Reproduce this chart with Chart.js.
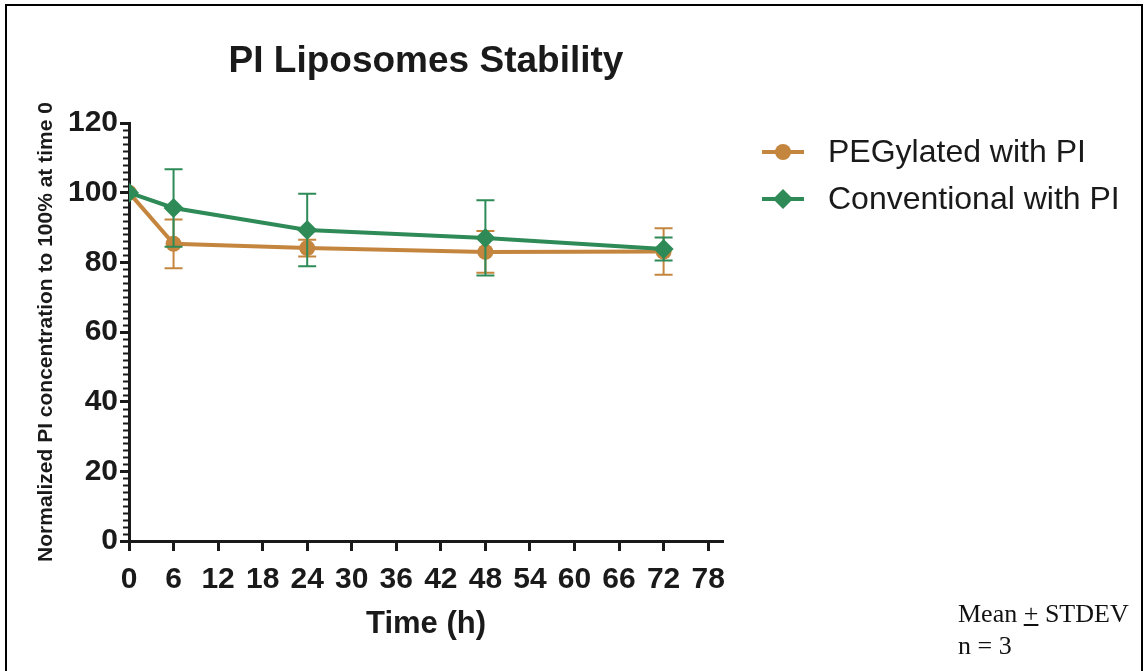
<!DOCTYPE html>
<html>
<head>
<meta charset="utf-8">
<script src="https://cdn.jsdelivr.net/npm/chart.js@4"></script>
<style>
  html, body { margin: 0; padding: 0; background: #fff; }
  #wrap { position: relative; width: 1144px; height: 671px; }
  #note {
    position: absolute; left: 958px; top: 598px;
    font-family: "Times New Roman", "Liberation Serif", serif;
    font-size: 26px; line-height: 32px; color: #111;
  }
</style>
</head>
<body>
<div id="wrap">
  <canvas id="stabilityChart" width="1144" height="671"></canvas>
  <div id="note">Mean <u>+</u> STDEV<br>n = 3</div>
</div>
<script>
// values
const timePoints = [0, 6, 24, 48, 72];
const pegMean = [100, 85.3, 84.1, 83.0, 83.1];
const pegSD = [0, 7.0, 2.4, 6.0, 6.7];
const convMean = [100, 95.6, 89.3, 87.0, 83.8];
const convSD = [0, 11.1, 10.4, 10.8, 3.3];
const seriesNames = ['PEGylated with PI', 'Conventional with PI'];
const xTicks = [0, 6, 12, 18, 24, 30, 36, 42, 48, 54, 60, 66, 72, 78];
const yTicks = [0, 20, 40, 60, 80, 100, 120];

const ORANGE = '#c4863f';
const GREEN = '#2e8a56';
const INK = '#1a1a1a';
const SANS = 'Arial, "Liberation Sans", Helvetica, sans-serif';
const tickFont = { family: SANS, size: 30, weight: 'bold' };

function toPoints(means) {
  return timePoints.map((t, i) => ({ x: t, y: means[i] }));
}

// error bars drawn right after their own dataset
const errorBars = {
  id: 'errorBars',
  afterDatasetDraw(chart, args) {
    const ds = chart.data.datasets[args.index];
    if (!ds.sd) return;
    const ctx = chart.ctx;
    const xs = chart.scales.x, ys = chart.scales.y;
    ctx.save();
    ctx.strokeStyle = ds.borderColor;
    ctx.lineWidth = 2;
    ds.data.forEach((p, i) => {
      const sd = ds.sd[i];
      if (!sd) return;
      const px = xs.getPixelForValue(p.x);
      const top = ys.getPixelForValue(p.y + sd);
      const bot = ys.getPixelForValue(p.y - sd);
      ctx.beginPath();
      ctx.moveTo(px, top); ctx.lineTo(px, bot);
      ctx.moveTo(px - 9, top); ctx.lineTo(px + 9, top);
      ctx.moveTo(px - 9, bot); ctx.lineTo(px + 9, bot);
      ctx.stroke();
    });
    ctx.restore();
  }
};

// title, minor ticks, legend and frame
const decorations = {
  id: 'decorations',
  afterDraw(chart) {
    const ctx = chart.ctx;
    const area = chart.chartArea;
    const ys = chart.scales.y;
    ctx.save();

    // frame (left, top, right)
    ctx.strokeStyle = '#000';
    ctx.lineWidth = 2;
    ctx.beginPath();
    ctx.moveTo(6, 671); ctx.lineTo(6, 5); ctx.lineTo(1142, 5); ctx.lineTo(1142, 671);
    ctx.stroke();

    // title
    ctx.fillStyle = INK;
    ctx.font = 'bold 37px ' + SANS;
    ctx.textAlign = 'center';
    ctx.textBaseline = 'middle';
    ctx.fillText('PI Liposomes Stability', (area.left + area.right) / 2, 62);

    // y minor ticks every 2
    ctx.strokeStyle = INK;
    ctx.lineWidth = 2;
    ctx.beginPath();
    for (let v = 2; v < 120; v += 2) {
      if (v % 20 === 0) continue;
      const py = Math.round(ys.getPixelForValue(v)) + 0.5;
      ctx.moveTo(area.left - 6, py);
      ctx.lineTo(area.left, py);
    }
    ctx.stroke();

    // legend
    const legendOrder = [1, 0];
    legendOrder.forEach((dsIndex, row) => {
      const ds = chart.data.datasets[dsIndex];
      const cy = 152 + row * 47;
      ctx.strokeStyle = ds.borderColor;
      ctx.lineWidth = 4;
      ctx.beginPath();
      ctx.moveTo(762, cy); ctx.lineTo(804, cy);
      ctx.stroke();
      ctx.fillStyle = ds.borderColor;
      ctx.beginPath();
      if (ds.pointStyle === 'circle') {
        ctx.arc(783, cy, 8, 0, Math.PI * 2);
      } else {
        ctx.moveTo(783, cy - 10); ctx.lineTo(793, cy);
        ctx.lineTo(783, cy + 10); ctx.lineTo(773, cy);
        ctx.closePath();
      }
      ctx.fill();
      ctx.fillStyle = INK;
      ctx.font = '32px ' + SANS;
      ctx.textAlign = 'left';
      ctx.textBaseline = 'middle';
      ctx.fillText(ds.label, 828, cy + 1);
    });
    ctx.restore();
  }
};

const ctx = document.getElementById('stabilityChart').getContext('2d');
new Chart(ctx, {
  type: 'line',
  data: {
    datasets: [
      {
        label: seriesNames[1],
        data: toPoints(convMean),
        sd: convSD,
        borderColor: GREEN,
        backgroundColor: GREEN,
        borderWidth: 4,
        pointStyle: 'rectRot',
        pointRadius: 10,
        pointBorderWidth: 0,
        tension: 0,
        order: 0
      },
      {
        label: seriesNames[0],
        data: toPoints(pegMean),
        sd: pegSD,
        borderColor: ORANGE,
        backgroundColor: ORANGE,
        borderWidth: 4,
        pointStyle: 'circle',
        pointRadius: 8,
        pointBorderWidth: 0,
        tension: 0,
        order: 1
      }
    ]
  },
  options: {
    responsive: false,
    animation: false,
    layout: { padding: { top: 123, right: 421, bottom: 0, left: 0 } },
    plugins: {
      legend: { display: false },
      title: { display: false },
      tooltip: { enabled: false }
    },
    scales: {
      x: {
        type: 'linear',
        min: 0,
        max: 80,
        afterBuildTicks(scale) { scale.ticks = xTicks.map(v => ({ value: v })); },
        afterFit(scale) { scale.height = 130; },
        border: { display: true, width: 3, color: INK },
        grid: { display: true, drawOnChartArea: false, drawTicks: true, tickLength: 10, tickWidth: 3, tickColor: INK },
        ticks: { color: INK, font: tickFont, padding: 11, maxRotation: 0, autoSkip: false },
        title: {
          display: true,
          text: 'Time (h)',
          color: INK,
          font: { family: SANS, size: 31, weight: 'bold' },
          padding: { top: 0, bottom: 28 }
        }
      },
      y: {
        min: 0,
        max: 120,
        afterBuildTicks(scale) { scale.ticks = yTicks.map(v => ({ value: v })); },
        afterFit(scale) { scale.width = 129; },
        border: { display: true, width: 3, color: INK },
        grid: { display: true, drawOnChartArea: false, drawTicks: true, tickLength: 9, tickWidth: 3, tickColor: INK },
        ticks: { color: INK, font: tickFont, padding: 2 },
        title: {
          display: true,
          text: 'Normalized PI concentration to 100% at time 0',
          color: INK,
          font: { family: SANS, size: 21, weight: 'bold' },
          padding: { top: 34, bottom: 0 }
        }
      }
    }
  },
  plugins: [errorBars, decorations]
});
</script>
</body>
</html>
